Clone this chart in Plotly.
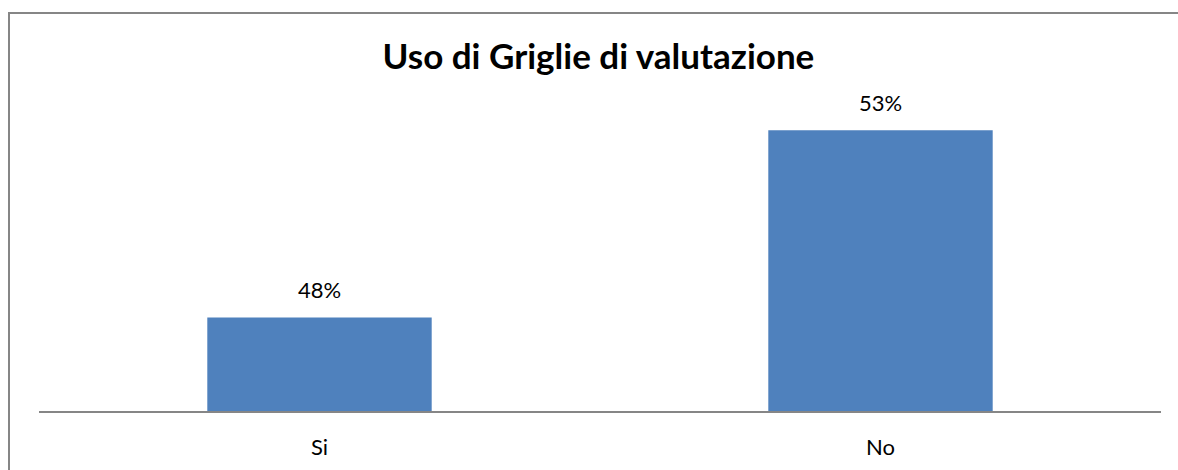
import plotly.graph_objects as go

# data
categories = ["Si", "No"]
values = [0.475, 0.525]
value_labels = ["48%", "53%"]

BAR_COLOR = "#4F81BD"
AXIS_GRAY = "#868686"
FONT = "Lato, 'Open Sans', sans-serif"

W, H = 1178, 470
L, R, T, B = 39, 17, 74, 59
plot_w = W - L - R
plot_h = H - T - B

fig = go.Figure(go.Bar(
    x=categories, y=values,
    marker=dict(color=BAR_COLOR, line=dict(width=0)),
    hoverinfo="skip",
))

# data labels sit a bit higher above the bars than plotly's outside text
for cat, val, lab in zip(categories, values, value_labels):
    fig.add_annotation(
        x=cat, y=val, text=lab, showarrow=False,
        yanchor="bottom", yshift=12,
        font=dict(size=22, color="#000000", family=FONT),
    )

# outer chart border (runs off the right/bottom edge in the reference)
fig.add_shape(
    type="rect", xref="paper", yref="paper",
    x0=(9 - L) / plot_w, x1=1.2,
    y0=-0.5, y1=(H - B - 13) / plot_h,
    line=dict(color=AXIS_GRAY, width=2), fillcolor="rgba(0,0,0,0)",
    layer="below",
)

fig.update_layout(
    width=W, height=H,
    margin=dict(l=L, r=R, t=T, b=B, pad=0, autoexpand=False),
    paper_bgcolor="white", plot_bgcolor="white",
    bargap=0.6, showlegend=False,
    font=dict(family=FONT, color="#000000"),
    title=dict(
        text="<b>Uso di Griglie di valutazione</b>",
        x=0.508, xanchor="center", y=1 - 57 / H, yanchor="middle",
        font=dict(size=35, family=FONT, color="#000000"),
    ),
    xaxis=dict(
        showline=True, linecolor=AXIS_GRAY, linewidth=2,
        showgrid=False, ticks="", ticklabelstandoff=16, automargin=False,
        tickfont=dict(size=22, color="#000000"),
    ),
    yaxis=dict(
        range=[0.45, 0.54], visible=False, showgrid=False, zeroline=False,
        automargin=False,
    ),
)

fig.write_html(
    "out.html",
    config={"displayModeBar": False},
    post_script="document.body.style.margin='0';",
)
